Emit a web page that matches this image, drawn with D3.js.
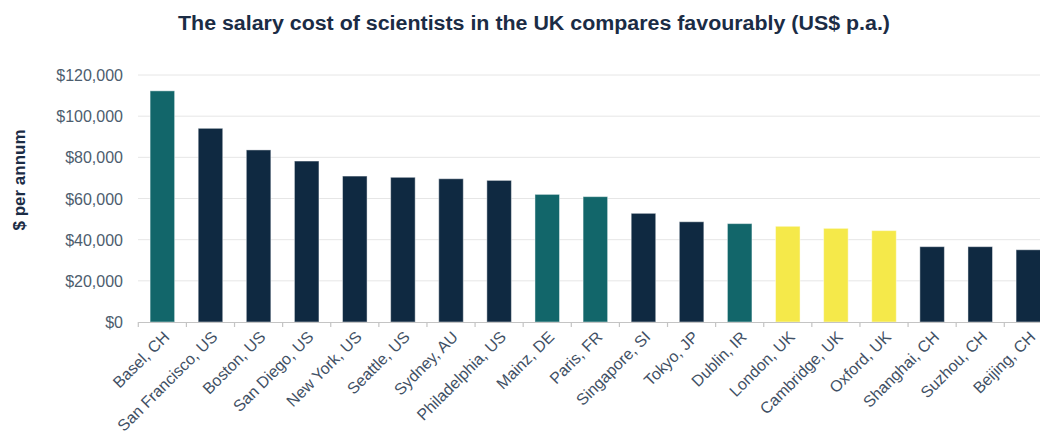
<!DOCTYPE html>
<html>
<head>
<meta charset="utf-8">
<script src="https://cdn.jsdelivr.net/npm/d3@7"></script>
<style>
  html, body { margin: 0; padding: 0; background: #ffffff; }
  svg { display: block; }
  text { font-family: "Liberation Sans", Arial, sans-serif; }
</style>
</head>
<body>
<svg id="chart" width="1040" height="436"></svg>
<script>
const categories = ["Basel, CH", "San Francisco, US", "Boston, US", "San Diego, US", "New York, US", "Seattle, US", "Sydney, AU", "Philadelphia, US", "Mainz, DE", "Paris, FR", "Singapore, SI", "Tokyo, JP", "Dublin, IR", "London, UK", "Cambridge, UK", "Oxford, UK", "Shanghai, CH", "Suzhou, CH", "Beijing, CH"];
const salaries = [112300, 94100, 83600, 78200, 70900, 70300, 69600, 68800, 62000, 60900, 52800, 48700, 47800, 46500, 45500, 44400, 36600, 36600, 35100];
const groups = ["eu", "other", "other", "other", "other", "other", "other", "other", "eu", "eu", "other", "other", "eu", "uk", "uk", "uk", "other", "other", "other"];
const yTicks = [0, 20000, 40000, 60000, 80000, 100000, 120000];
const titleText = "The salary cost of scientists in the UK compares favourably (US$ p.a.)";
const yTitle = "$ per annum";

const colors = { eu: "#12666a", other: "#0f2941", uk: "#f5e94a" };

const svg = d3.select("#chart");
const x = d3.scaleBand().domain(categories).range([138.3, 1052.4]).paddingInner(0.49).paddingOuter(0.245);
const y = d3.scaleLinear().domain([0, 120000]).range([322, 75]);

// gridlines
svg.append("g").selectAll("line").data(yTicks.filter(d => d > 0)).join("line")
  .attr("x1", 138).attr("x2", 1040)
  .attr("y1", d => y(d)).attr("y2", d => y(d))
  .attr("stroke", "#e6e6e6").attr("stroke-width", 1);

// y axis labels
const yAxis = d3.axisLeft(y).tickValues(yTicks).tickSize(0).tickPadding(0)
  .tickFormat(d => "$" + d3.format(",")(d));
const gy = svg.append("g").attr("transform", "translate(123,0)").call(yAxis);
gy.select(".domain").remove();
gy.selectAll("text").attr("font-size", 16).attr("fill", "#4d5d6e").attr("dy", "0.35em");

// bars
svg.append("g").selectAll("rect").data(categories).join("rect")
  .attr("x", d => x(d))
  .attr("width", x.bandwidth())
  .attr("y", (d, i) => y(salaries[i]))
  .attr("height", (d, i) => y(0) - y(salaries[i]))
  .attr("fill", (d, i) => colors[groups[i]])
  .attr("stroke", "rgba(255,255,255,0.45)")
  .attr("stroke-width", 1);

// x axis
const step = x.step();
const xStart = 138.3;
const gx = svg.append("g");
gx.append("line").attr("x1", xStart).attr("x2", 1040).attr("y1", 322.5).attr("y2", 322.5)
  .attr("stroke", "#c4c4c4").attr("stroke-width", 1.2);
gx.selectAll("line.tk").data(d3.range(categories.length + 1)).join("line").attr("class", "tk")
  .attr("x1", i => xStart + i * step).attr("x2", i => xStart + i * step)
  .attr("y1", 322).attr("y2", 327)
  .attr("stroke", "#c4c4c4").attr("stroke-width", 1.2);

gx.selectAll("text").data(categories).join("text")
  .attr("transform", d => `translate(${x(d) + x.bandwidth() / 2 + 4},${334}) rotate(-45)`)
  .attr("text-anchor", "end")
  .attr("dy", "0.35em")
  .attr("font-size", 16)
  .attr("fill", "#3f5064")
  .text(d => d);

// title
svg.append("text")
  .attr("x", 178).attr("y", 30)
  .attr("font-size", 20).attr("font-weight", "bold")
  .attr("fill", "#1b2c45")
  .attr("textLength", 712).attr("lengthAdjust", "spacingAndGlyphs")
  .text(titleText);

// y title
svg.append("text")
  .attr("transform", "translate(25,180) rotate(-90)")
  .attr("text-anchor", "middle")
  .attr("font-size", 17).attr("font-weight", "bold")
  .attr("fill", "#1b2c45")
  .text(yTitle);
</script>
</body>
</html>
